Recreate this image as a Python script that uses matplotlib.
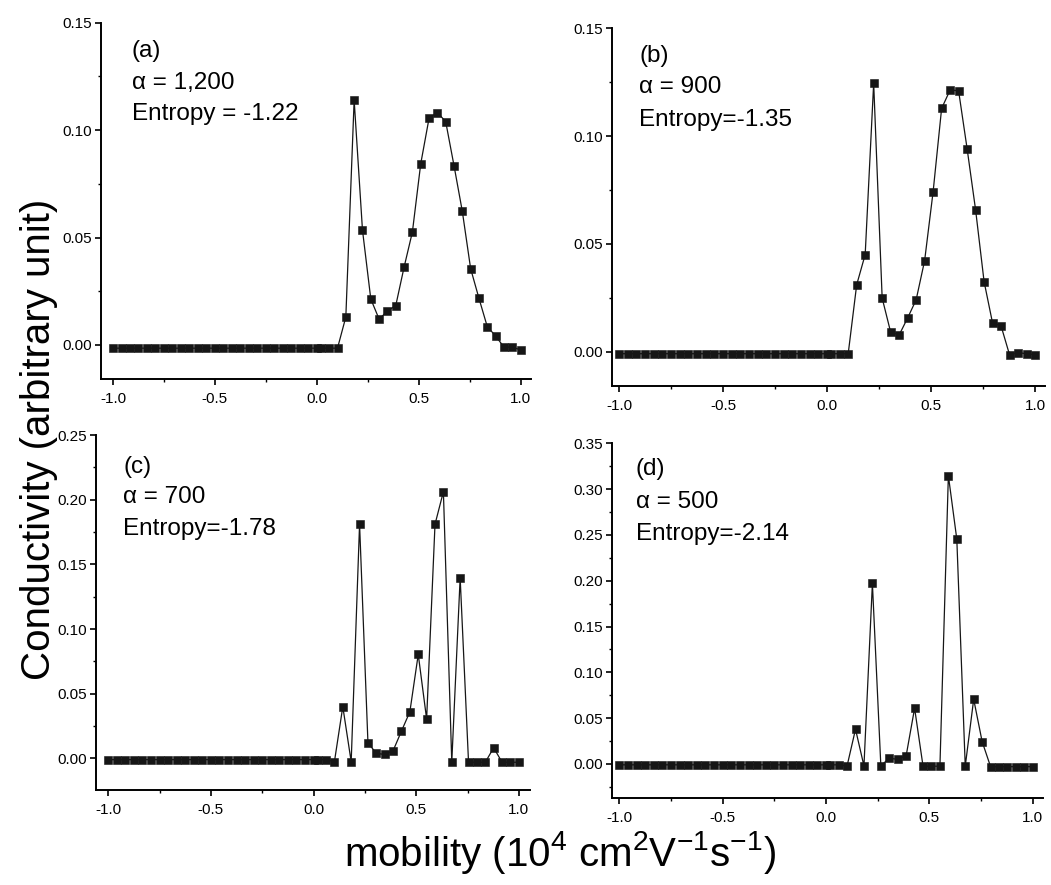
import numpy as np
import matplotlib
matplotlib.use("Agg")
import matplotlib.pyplot as plt
from matplotlib.ticker import MultipleLocator, AutoMinorLocator, FormatStrFormatter

plt.rcParams['font.family'] = ['Liberation Sans', 'DejaVu Sans']
plt.rcParams['mathtext.fontset'] = 'custom'
plt.rcParams['mathtext.rm'] = 'Liberation Sans'
plt.rcParams['mathtext.it'] = 'Liberation Sans:italic'
plt.rcParams['axes.unicode_minus'] = False

# mobility grid (10^4 cm^2/Vs): electrons on the negative side, holes on the positive side
mobility_neg = np.linspace(-1.0, 0.0, 25)
mobility_pos = np.linspace(0.02, 1.0, 25)
mobility = np.concatenate([mobility_neg, mobility_pos])

# conductivity spectra for each alpha
cond_a_neg = [-0.0015, -0.0015, -0.0015, -0.0015, -0.0015, -0.0015, -0.0015, -0.0015, -0.0015, -0.0015,
              -0.0015, -0.0015, -0.0015, -0.0015, -0.0015, -0.0015, -0.0015, -0.0015, -0.0015, -0.0015,
              -0.0015, -0.0015, -0.0015, -0.0015, -0.0015]
cond_a_pos = [-0.0015, -0.0015, -0.0015, 0.013, 0.114, 0.0535, 0.0214, 0.012, 0.0158, 0.0183,
              0.0362, 0.0526, 0.0843, 0.1055, 0.1082, 0.104, 0.0835, 0.0622, 0.0355, 0.0217,
              0.0085, 0.0042, -0.001, -0.001, -0.0023]

cond_b_neg = [-0.001, -0.001, -0.001, -0.001, -0.001, -0.001, -0.001, -0.001, -0.001, -0.001,
              -0.001, -0.001, -0.001, -0.001, -0.001, -0.001, -0.001, -0.001, -0.001, -0.001,
              -0.001, -0.001, -0.001, -0.001, -0.001]
cond_b_pos = [-0.001, -0.001, -0.001, 0.031, 0.045, 0.1245, 0.0248, 0.009, 0.0077, 0.0156,
              0.024, 0.0422, 0.0742, 0.1128, 0.1214, 0.121, 0.0942, 0.0658, 0.0325, 0.0132,
              0.0119, -0.0015, -0.0005, -0.001, -0.0015]

cond_c_neg = [-0.001, -0.001, -0.001, -0.001, -0.001, -0.001, -0.001, -0.001, -0.001, -0.001,
              -0.001, -0.001, -0.001, -0.001, -0.001, -0.001, -0.001, -0.001, -0.001, -0.001,
              -0.001, -0.001, -0.001, -0.001, -0.001]
cond_c_pos = [-0.001, -0.001, -0.0026, 0.040, -0.0026, 0.181, 0.012, 0.0039, 0.003, 0.0059,
              0.0211, 0.036, 0.0804, 0.0304, 0.181, 0.2062, -0.003, 0.1397, -0.003, -0.003,
              -0.003, 0.0082, -0.003, -0.003, -0.003]

cond_d_neg = [-0.001, -0.001, -0.001, -0.001, -0.001, -0.001, -0.001, -0.001, -0.001, -0.001,
              -0.001, -0.001, -0.001, -0.001, -0.001, -0.001, -0.001, -0.001, -0.001, -0.001,
              -0.001, -0.001, -0.001, -0.001, -0.001]
cond_d_pos = [-0.001, -0.001, -0.0022, 0.0379, -0.0022, 0.197, -0.002, 0.0062, 0.005, 0.009,
              0.0608, -0.0025, -0.0025, -0.0025, 0.3148, 0.2453, -0.0025, 0.0706, 0.0244, -0.003,
              -0.003, -0.003, -0.003, -0.003, -0.003]

panel_tags = ["(a)", "(b)", "(c)", "(d)"]
alpha_labels = ["\u03b1 = 1,200", "\u03b1 = 900", "\u03b1 = 700", "\u03b1 = 500"]
entropy_labels = ["Entropy = -1.22", "Entropy=-1.35", "Entropy=-1.78", "Entropy=-2.14"]
y_tops = [0.15, 0.15, 0.25, 0.35]
x_ticks = [-1.0, -0.5, 0.0, 0.5, 1.0]

spectra = [cond_a_neg + cond_a_pos, cond_b_neg + cond_b_pos,
           cond_c_neg + cond_c_pos, cond_d_neg + cond_d_pos]

fig = plt.figure(figsize=(10.51, 8.85), dpi=100)

# axes rectangles and limits for the 2x2 layout
rects = [[0.0959, 0.5714, 0.4091, 0.4029],
         [0.5823, 0.5638, 0.4124, 0.4042],
         [0.0913, 0.1073, 0.4129, 0.4011],
         [0.5820, 0.0980, 0.4105, 0.4011]]
xlims = [(-1.06, 1.05), (-1.034, 1.05), (-1.06, 1.054), (-1.037, 1.05)]
ybottoms = [-0.016, -0.016, -0.0245, -0.0375]
text_x = [0.1253, 0.608, 0.1173, 0.6051]
text_y = [(0.9356, 0.8994, 0.8644), (0.9303, 0.8946, 0.8576),
          (0.4659, 0.4316, 0.3955), (0.4633, 0.4256, 0.3898)]

for i in range(4):
    ax = fig.add_axes(rects[i])
    ax.plot(mobility, spectra[i], color='#161616', linewidth=0.9,
            marker='s', markersize=5.4, markeredgewidth=0.4,
            markerfacecolor='#161616', markeredgecolor='#161616')

    ax.set_xlim(xlims[i])
    ax.set_ylim(ybottoms[i], y_tops[i])
    ax.set_xticks(x_ticks)
    ax.xaxis.set_major_formatter(FormatStrFormatter('%.1f'))
    ax.xaxis.set_minor_locator(AutoMinorLocator(2))
    ax.yaxis.set_major_locator(MultipleLocator(0.05))
    ax.yaxis.set_major_formatter(FormatStrFormatter('%.2f'))
    ax.yaxis.set_minor_locator(AutoMinorLocator(2))

    ax.spines['top'].set_visible(False)
    ax.spines['right'].set_visible(False)
    ax.spines['left'].set_linewidth(1.4)
    ax.spines['bottom'].set_linewidth(1.4)
    ax.tick_params(which='major', direction='out', length=4, width=1.2, labelsize=11, pad=5)
    ax.tick_params(which='minor', direction='out', length=2.5, width=1.0)
    ax.tick_params(axis='y', which='major', pad=2.5)

    fig.text(text_x[i], text_y[i][0], panel_tags[i], fontsize=17.5, va='baseline')
    fig.text(text_x[i], text_y[i][1], alpha_labels[i], fontsize=17.5, va='baseline')
    fig.text(text_x[i], text_y[i][2], entropy_labels[i], fontsize=17.5, va='baseline')

fig.text(0.037, 0.503, "Conductivity (arbitrary unit)", rotation=90,
         fontsize=29, ha='center', va='center')
fig.text(0.533, 0.0215, "mobility (10$^4$ cm$^2$V$^{-1}$s$^{-1}$)",
         fontsize=29, ha='center', va='baseline')

fig.savefig("out.png", dpi=100)
